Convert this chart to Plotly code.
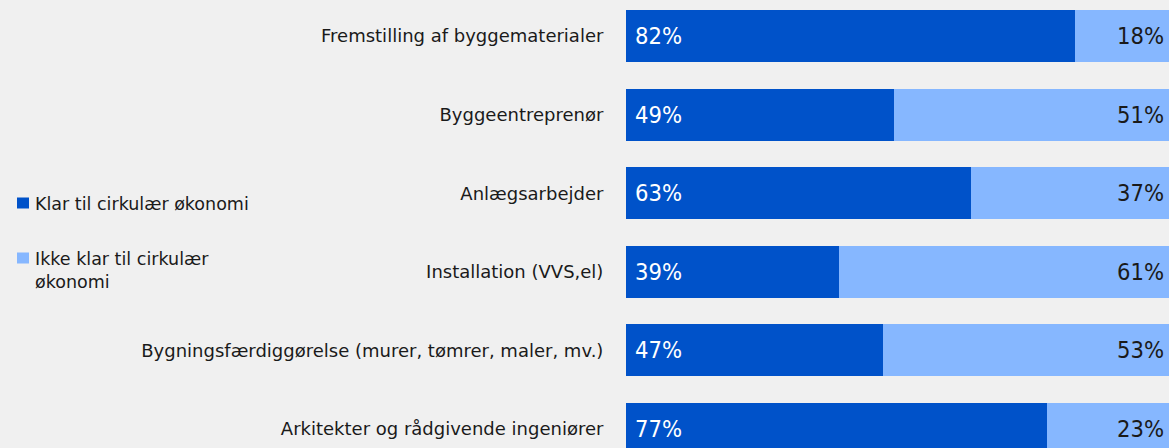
import plotly.graph_objects as go

categories = [
    "Fremstilling af byggematerialer",
    "Byggeentreprenør",
    "Anlægsarbejder",
    "Installation (VVS,el)",
    "Bygningsfærdiggørelse (murer, tømrer, maler, mv.)",
    "Arkitekter og rådgivende ingeniører",
]
klar = [82, 49, 63, 39, 47, 77]
ikke_klar = [18, 51, 37, 61, 53, 23]
series_names = ["Klar til cirkulær økonomi", "Ikke klar til cirkulær<br>økonomi"]

DARK = "#0052C9"
LIGHT = "#86B7FF"
BG = "#F0F0F0"
FONT = "DejaVu Sans"
NUMFONT = "DejaVu Sans Condensed"

fig = go.Figure()
fig.add_trace(go.Bar(y=categories, x=klar, orientation="h", marker=dict(color=DARK, line=dict(width=0)),
                     name=series_names[0], showlegend=False, hoverinfo="x+y"))
fig.add_trace(go.Bar(y=categories, x=ikke_klar, orientation="h", marker=dict(color=LIGHT, line=dict(width=0)),
                     name=series_names[1], showlegend=False, hoverinfo="x+y"))

annotations = []
for c, a, b in zip(categories, klar, ikke_klar):
    annotations.append(dict(x=0, y=c, xref="x", yref="y", text=f"{a}%", showarrow=False,
                            xanchor="left", xshift=7, font=dict(family=NUMFONT, size=23.5, color="white")))
    annotations.append(dict(x=1, y=c, xref="x domain", yref="y", text=f"{b}%", showarrow=False,
                            xanchor="right", xshift=-3, font=dict(family=NUMFONT, size=23.5, color="#1a1a1a")))

# legend drawn manually
legend_y = [203, 258]
shapes = []
for i, (name, color) in enumerate(zip(series_names, [DARK, LIGHT])):
    yc = 1 - legend_y[i] / 448
    shapes.append(dict(type="rect", xref="paper", yref="paper",
                       x0=(17 - 626) / 543, x1=(29 - 626) / 543,
                       y0=yc - 5.5 / 448, y1=yc + 5.5 / 448,
                       fillcolor=color, line=dict(width=0)))
    annotations.append(dict(x=(33 - 626) / 543, y=yc + 11 / 448, xref="paper", yref="paper",
                            text=name, showarrow=False, xanchor="left", yanchor="top", align="left",
                            font=dict(family=FONT, size=17.5, color="#1a1a1a")))

fig.update_layout(
    width=1169, height=448,
    barmode="stack", bargap=0.34,
    paper_bgcolor=BG, plot_bgcolor=BG,
    margin=dict(l=626, r=0, t=0, b=0),
    xaxis=dict(range=[0, 99.27], visible=False, fixedrange=True),
    yaxis=dict(range=[5.242, -0.458], showgrid=False, zeroline=False, showline=False,
               ticks="outside", ticklen=18, tickcolor="rgba(0,0,0,0)",
               tickfont=dict(family=FONT, size=18, color="#1a1a1a")),
    annotations=annotations, shapes=shapes,
)
fig.write_html("out.html", config={"displayModeBar": False},
               post_script="document.body.style.margin='0';document.body.style.background='#F0F0F0';")
